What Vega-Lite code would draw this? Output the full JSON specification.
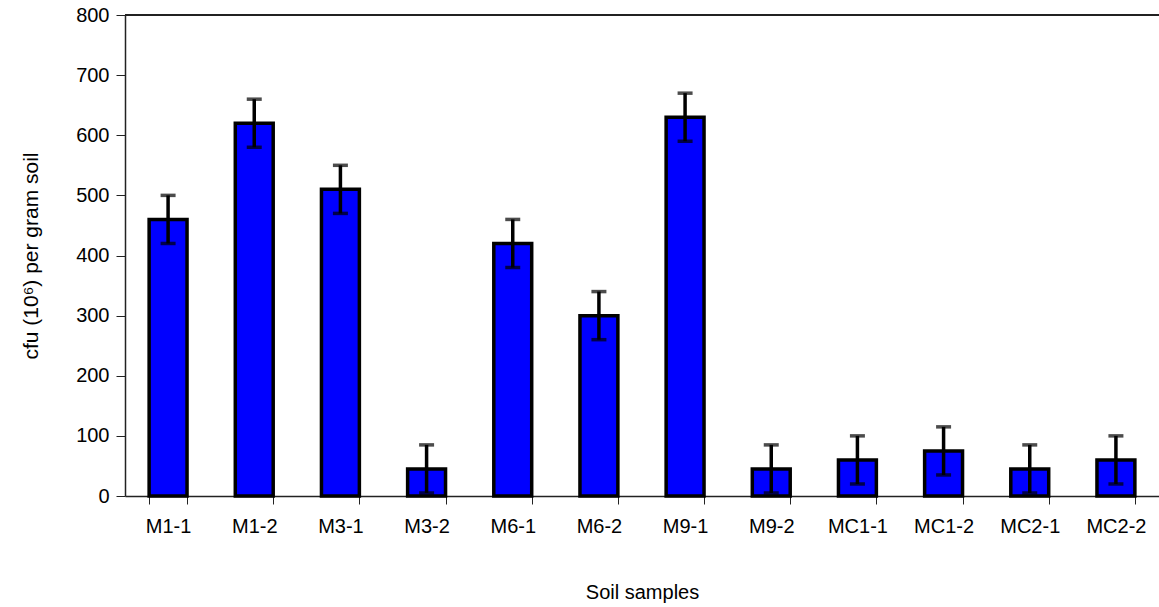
{
  "$schema": "https://vega.github.io/schema/vega-lite/v6.json",
  "autosize": "none",
  "width": 1034,
  "height": 481,
  "padding": {"left": 125, "top": 15, "right": 0, "bottom": 111},
  "background": "white",
  "config": {
    "view": {"stroke": null},
    "font": "Liberation Sans",
    "axis": {"labelFont": "Liberation Sans", "titleFont": "Liberation Sans", "labelColor": "black", "titleColor": "black", "titleFontWeight": "normal", "domainColor": "#222", "tickColor": "#222", "grid": false}
  },
  "data": {"values": [
    {"sample": "M1-1", "cfu": 460, "err": 40},
    {"sample": "M1-2", "cfu": 620, "err": 40},
    {"sample": "M3-1", "cfu": 510, "err": 40},
    {"sample": "M3-2", "cfu": 45, "err": 40},
    {"sample": "M6-1", "cfu": 420, "err": 40},
    {"sample": "M6-2", "cfu": 300, "err": 40},
    {"sample": "M9-1", "cfu": 630, "err": 40},
    {"sample": "M9-2", "cfu": 45, "err": 40},
    {"sample": "MC1-1", "cfu": 60, "err": 40},
    {"sample": "MC1-2", "cfu": 75, "err": 40},
    {"sample": "MC2-1", "cfu": 45, "err": 40},
    {"sample": "MC2-2", "cfu": 60, "err": 40}
  ]},
  "layer": [
    {
      "mark": {"type": "bar", "fill": "#0000FF", "stroke": "black", "strokeWidth": 3.5},
      "encoding": {
        "x": {
          "field": "sample", "type": "nominal", "sort": null,
          "scale": {"paddingInner": 0.56, "paddingOuter": 0.28},
          "axis": {"title": "Soil samples", "labelAngle": 0, "labelFontSize": 20, "titleFontSize": 20, "tickSize": 8, "labelPadding": 12, "titlePadding": 46, "domainWidth": 1.5, "tickWidth": 1, "tickBand": "extent"}
        },
        "y": {
          "field": "cfu", "type": "quantitative",
          "title": "cfu (10⁶) per gram soil",
          "scale": {"domain": [0, 800], "nice": false},
          "axis": {"title": "cfu (10⁶) per gram soil", "values": [0, 100, 200, 300, 400, 500, 600, 700, 800], "labelFontSize": 20, "titleFontSize": 21, "tickSize": 9, "labelPadding": 7, "titlePadding": 34, "domainWidth": 1.5}
        }
      }
    },
    {
      "mark": {"type": "errorbar", "color": "black", "thickness": 3.5, "ticks": {"size": 15, "thickness": 3.5, "color": "black"}, "rule": {"strokeWidth": 3.5, "color": "black"}},
      "encoding": {
        "x": {"field": "sample", "type": "nominal", "sort": null},
        "y": {"field": "cfu", "type": "quantitative", "title": "cfu (10⁶) per gram soil"},
        "yError": {"field": "err"}
      }
    },
    {
      "mark": {"type": "rule", "color": "#222", "strokeWidth": 1.5},
      "encoding": {"y": {"datum": 800}}
    }
  ]
}
